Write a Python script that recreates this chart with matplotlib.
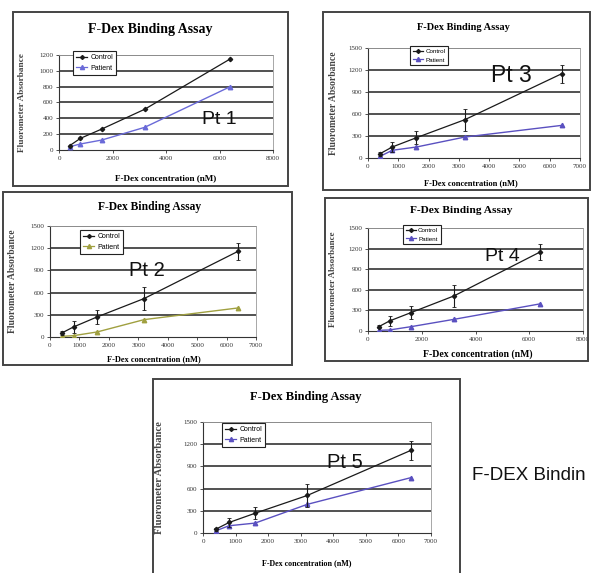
import matplotlib
matplotlib.use('Agg')
import matplotlib.pyplot as plt
from matplotlib.patches import Rectangle
from matplotlib.lines import Line2D

# F-Dex concentration (nM)
conc = [400, 800, 1600, 3200, 6400]

# Pt 1 (no error bars)
pt1_control = [55, 147, 265, 514, 1150]
pt1_patient = [42, 76, 126, 286, 800]

# Pt 2
pt2_control = [54, 136, 271, 520, 1160]
pt2_control_err = [25, 85, 90, 160, 115]
pt2_patient = [9, 18, 68, 235, 393]

# Pt 3
pt3_control = [59, 150, 277, 523, 1150]
pt3_control_err = [25, 68, 85, 150, 125]
pt3_patient = [23, 105, 150, 286, 445]

# Pt 4
pt4_control = [63, 146, 268, 511, 1150]
pt4_control_err = [25, 73, 97, 155, 122]
pt4_patient = [10, 15, 63, 170, 395]

# Pt 5
pt5_control = [53, 142, 267, 507, 1120]
pt5_control_err = [20, 60, 80, 150, 130]
pt5_patient = [31, 98, 134, 387, 750]

W, H = 591, 573
fig = plt.figure(figsize=(W / 100, H / 100), dpi=100)
fig.patch.set_facecolor('white')

SERIF = 'Liberation Serif'
SANS = 'Liberation Sans'


def fx(x):
    return x / W


def fy(y):
    return 1 - y / H


def frame(l, t, r, b):
    fig.add_artist(Rectangle((fx(l), fy(b)), fx(r) - fx(l), fy(t) - fy(b),
                             transform=fig.transFigure, fill=False,
                             edgecolor='#444444', linewidth=1.4))


def panel(name, box, ax_px, xmax, xstep, ymax, ystep, control, patient,
          err, pcolor, leg_px, title_px, xlab_px, ylab_x, pt_xy,
          leg_fs=4.5, title_fs=8, xlab_fs=6, ylab_fs=6.8, pt_fs=14):
    l, t, r, b = ax_px
    ax = fig.add_axes([fx(l), fy(b), fx(r) - fx(l), fy(t) - fy(b)])
    frame(*box)
    ax.set_xlim(0, xmax)
    ax.set_ylim(0, ymax)
    ax.set_xticks(range(0, xmax + 1, xstep))
    ax.set_yticks(range(0, ymax + 1, ystep))
    ax.tick_params(labelsize=5, length=2, width=0.6, pad=2, colors='#333333')
    for lab in ax.get_xticklabels() + ax.get_yticklabels():
        lab.set_family(SERIF)
    for yv in range(ystep, ymax + 1, ystep):
        ax.axhline(yv, color='#222222', lw=1.1, zorder=1)
    for s in ['top', 'right']:
        ax.spines[s].set_color('#999999')
        ax.spines[s].set_linewidth(0.6)
    for s in ['left', 'bottom']:
        ax.spines[s].set_color('#333333')
        ax.spines[s].set_linewidth(0.8)

    ax.plot(conc, patient, color=pcolor, lw=1.0, marker='^', ms=3.2, zorder=3)
    ax.plot(conc, control, color='#1a1a1a', lw=0.9, marker='D', ms=2.2, zorder=4)
    if err is not None:
        ax.errorbar(conc, control, yerr=err, fmt='none', ecolor='#1a1a1a',
                    elinewidth=0.8, capsize=1.5, capthick=0.6, zorder=4)

    ax.text(pt_xy[0], pt_xy[1], name, fontsize=pt_fs, family=SANS,
            ha='center', va='center', color='#111111', zorder=5)

    # legend box
    handles = [Line2D([], [], color='#1a1a1a', marker='D', ms=2, lw=0.9),
               Line2D([], [], color=pcolor, marker='^', ms=3, lw=0.9)]
    ax.legend(handles, ['Control', 'Patient'], loc='upper left',
              bbox_to_anchor=(fx(leg_px[0]), fy(leg_px[1])),
              bbox_transform=fig.transFigure,
              frameon=True, fancybox=False, edgecolor='#222222',
              framealpha=1, handlelength=1.6, handletextpad=0.4,
              borderpad=0.4, labelspacing=0.5,
              prop={'family': SANS, 'size': leg_fs})
    ax.get_legend().get_frame().set_linewidth(0.8)

    fig.text(fx(title_px[0]), fy(title_px[1]), 'F-Dex Binding Assay',
             family=SERIF, weight='bold', fontsize=title_fs,
             ha='center', va='center')
    fig.text(fx(xlab_px[0]), fy(xlab_px[1]), 'F-Dex concentration (nM)',
             family=SERIF, weight='bold', fontsize=xlab_fs,
             ha='center', va='center')
    fig.text(fx(ylab_x), fy((t + b) / 2), 'Fluorometer Absorbance',
             family=SERIF, weight='bold', fontsize=ylab_fs, ha='center',
             va='center', rotation=90, color='#444444')
    return ax


panel('Pt 1', (13, 12, 288, 186), (59, 55, 273, 150), 8000, 2000, 1200, 200,
      pt1_control, pt1_patient, None, '#6a6ad8', (70, 48), (150, 29),
      (166, 178), 22, (6000, 390), leg_fs=5,
      title_fs=10, xlab_fs=6.6, ylab_fs=6.7, pt_fs=14)

panel('Pt 3', (323, 12, 590, 190), (368, 48, 580, 158), 7000, 1000, 1500, 300,
      pt3_control, pt3_patient, pt3_control_err, '#5a50c0', (407, 43),
      (463, 27), (471, 183), 333, (4720, 1130),
      title_fs=7.5, xlab_fs=6, ylab_fs=6.9, pt_fs=16.5)

panel('Pt 2', (3, 192, 292, 365), (50, 226, 256, 337), 7000, 1000, 1500, 300,
      pt2_control, pt2_patient, pt2_control_err, '#a0a040', (77, 227),
      (150, 207), (154, 359), 13, (3300, 905), leg_fs=5,
      title_fs=8.3, xlab_fs=6, ylab_fs=6.9, pt_fs=14.5)

panel('Pt 4', (325, 198, 588, 361), (368, 228, 583, 331), 8000, 2000, 1500, 300,
      pt4_control, pt4_patient, pt4_control_err, '#5a50c0', (400, 222),
      (461, 210), (478, 354), 333, (4990, 1080),
      title_fs=8.2, xlab_fs=7, ylab_fs=6.5, pt_fs=14)

panel('Pt 5', (153, 379, 460, 590), (203, 422, 431, 533), 7000, 1000, 1500, 300,
      pt5_control, pt5_patient, pt5_control_err, '#5a50c0', (219, 420),
      (306, 397), (307, 563), 160, (4370, 955), leg_fs=5,
      title_fs=9, xlab_fs=5.8, ylab_fs=7.7, pt_fs=14.5)

fig.text(fx(472), fy(476), 'F-DEX Bindin', family=SANS, fontsize=13.5,
         ha='left', va='center', color='#111111')

fig.savefig('out.png', dpi=100)
